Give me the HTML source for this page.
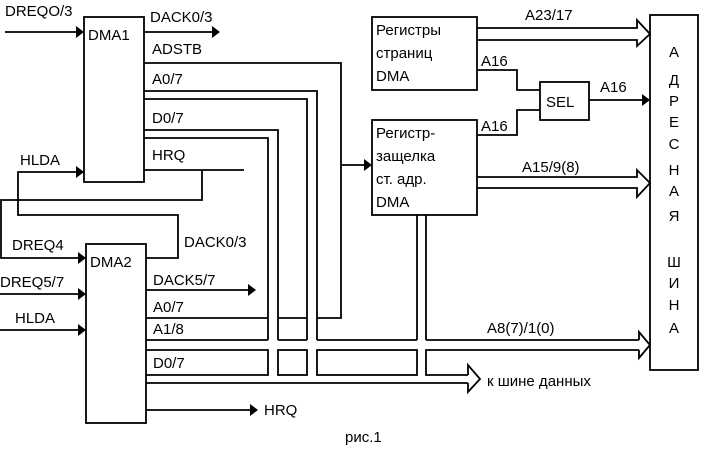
<!DOCTYPE html>
<html><head><meta charset="utf-8"><style>
html,body{margin:0;padding:0;background:#fff;}
svg{display:block;}
text{font-family:"Liberation Sans","DejaVu Sans",sans-serif;font-size:15px;fill:#000;}
</style></head><body>
<svg width="708" height="459" viewBox="0 0 708 459" xmlns="http://www.w3.org/2000/svg">
<g fill="none" stroke="#000" stroke-width="1.8">
<rect x="84" y="17" width="60" height="165"/>
<rect x="86" y="244" width="60" height="179"/>
<rect x="372" y="17" width="105" height="73"/>
<rect x="372" y="120" width="105" height="95"/>
<rect x="540" y="82" width="49" height="38"/>
<rect x="650" y="15" width="48" height="355"/>
<line x1="5" y1="32" x2="76" y2="32"/>
<line x1="144" y1="32" x2="212" y2="32"/>
<polyline points="144,170 244,170"/>
<polyline points="202,170 202,200 1,200 1,258 78,258"/>
<polyline points="78,172 18,172 18,215 178,215 178,258 146,258"/>
<line x1="0" y1="294" x2="78" y2="294"/>
<line x1="0" y1="330" x2="78" y2="330"/>
<line x1="146" y1="290" x2="248" y2="290"/>
<line x1="146" y1="410" x2="250" y2="410"/>
<polyline points="144,63 341,63 341,318 317,318"/>
<polyline points="144,91 317,91 317,340"/>
<polyline points="144,99 307,99 307,340"/>
<polyline points="144,130 278,130 278,340"/>
<polyline points="144,138 268,138 268,340"/>
<line x1="341" y1="165" x2="364" y2="165"/>
<line x1="417" y1="215" x2="417" y2="340"/>
<line x1="426" y1="215" x2="426" y2="340"/>
<line x1="146" y1="318" x2="268" y2="318"/>
<line x1="278" y1="318" x2="307" y2="318"/>
<line x1="146" y1="340" x2="268" y2="340"/>
<line x1="278" y1="340" x2="307" y2="340"/>
<line x1="317" y1="340" x2="417" y2="340"/>
<line x1="426" y1="340" x2="639" y2="340"/>
<polyline points="146,350 268,350 268,375 146,375"/>
<rect x="278" y="350" width="29" height="25"/>
<rect x="317" y="350" width="100" height="25"/>
<polyline points="639,350 426,350 426,375 468,375"/>
<line x1="146" y1="383" x2="468" y2="383"/>
<polyline points="639,340 639,332 650,345 639,358 639,350"/>
<polyline points="468,375 468,365 480,379 468,392 468,383"/>
<polyline points="477,28 637,28 637,20 650,34 637,46 637,40 477,40"/>
<polyline points="477,177 637,177 637,170 650,183 637,197 637,188 477,188"/>
<polyline points="477,70 517,70 517,90 540,90"/>
<polyline points="477,135 517,135 517,110 540,110"/>
<line x1="589" y1="100" x2="642" y2="100"/>
</g>
<g fill="#000">
<polygon points="76,26 84,32 76,38"/>
<polygon points="212,26 220,32 212,38"/>
<polygon points="76,166 84,172 76,178"/>
<polygon points="78,252 86,258 78,264"/>
<polygon points="78,288 86,294 78,300"/>
<polygon points="78,324 86,330 78,336"/>
<polygon points="248,284 256,290 248,296"/>
<polygon points="250,404 258,410 250,416"/>
<polygon points="364,159 372,165 364,171"/>
<polygon points="642,94 650,100 642,106"/>
</g>
<text x="5" y="16">DREQO/3</text>
<text x="88" y="40">DMA1</text>
<text x="150" y="22">DACK0/3</text>
<text x="152" y="54">ADSTB</text>
<text x="152" y="84">A0/7</text>
<text x="152" y="123">D0/7</text>
<text x="152" y="160">HRQ</text>
<text x="20" y="165">HLDA</text>
<text x="12" y="250">DREQ4</text>
<text x="90" y="267">DMA2</text>
<text x="184" y="247">DACK0/3</text>
<text x="0" y="287">DREQ5/7</text>
<text x="15" y="323">HLDA</text>
<text x="153" y="285">DACK5/7</text>
<text x="153" y="312">A0/7</text>
<text x="153" y="334">A1/8</text>
<text x="153" y="368">D0/7</text>
<text x="264" y="415">HRQ</text>
<text x="376" y="35">Регистры</text>
<text x="376" y="58">страниц</text>
<text x="376" y="81">DMA</text>
<text x="376" y="138">Регистр-</text>
<text x="376" y="161">защелка</text>
<text x="376" y="184">ст. адр.</text>
<text x="376" y="207">DMA</text>
<text x="546" y="107">SEL</text>
<text x="525" y="20">A23/17</text>
<text x="481" y="66">A16</text>
<text x="481" y="131">A16</text>
<text x="600" y="92">A16</text>
<text x="522" y="172">A15/9(8)</text>
<text x="487" y="333">A8(7)/1(0)</text>
<text x="487" y="386">к шине данных</text>
<text x="345" y="442">рис.1</text>
<g text-anchor="middle">
<text x="674" y="57">А</text>
<text x="674" y="85">Д</text>
<text x="674" y="106">Р</text>
<text x="674" y="127">Е</text>
<text x="674" y="149">С</text>
<text x="674" y="175">Н</text>
<text x="674" y="196">А</text>
<text x="674" y="221">Я</text>
<text x="674" y="267">Ш</text>
<text x="674" y="288">И</text>
<text x="674" y="310">Н</text>
<text x="674" y="333">А</text>
</g>
</svg>
</body></html>
